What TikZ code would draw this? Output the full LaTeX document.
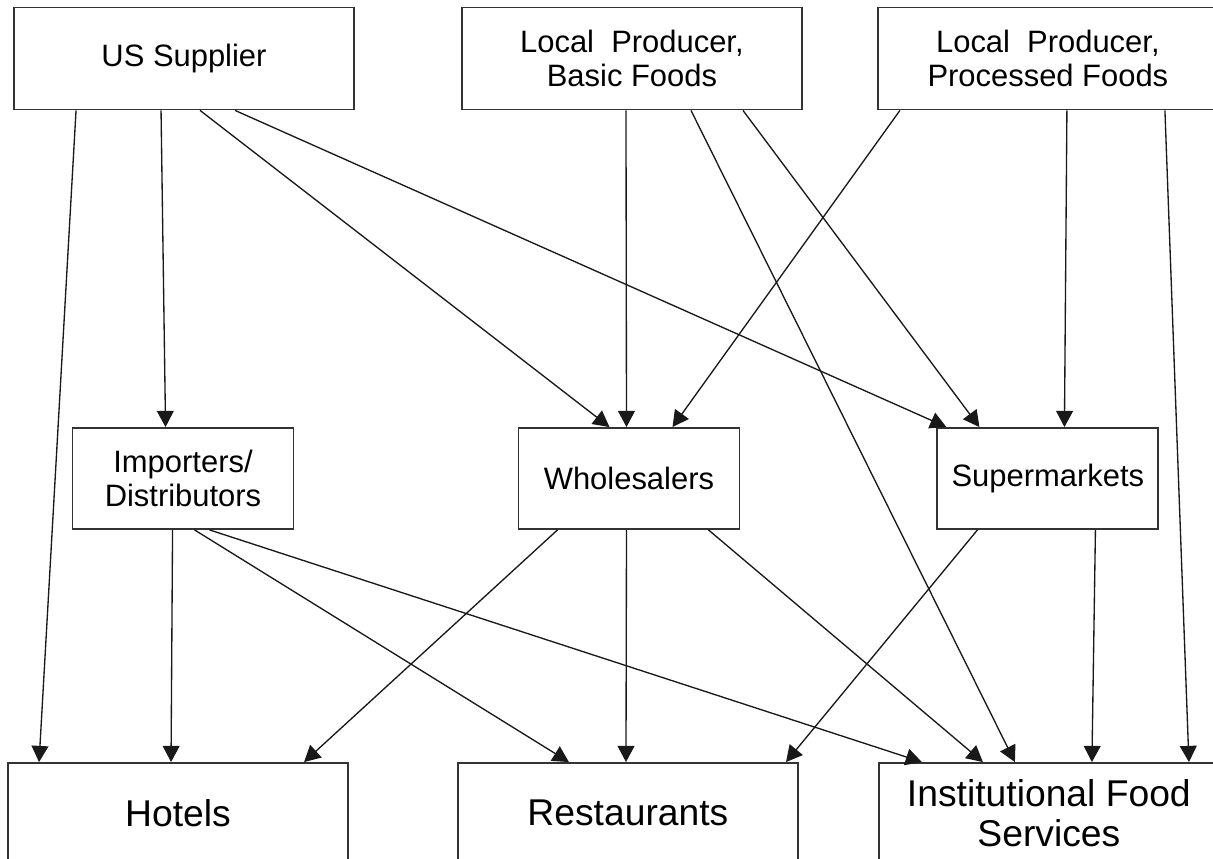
\documentclass[tikz,border=0pt]{standalone}
\usepackage{fontspec}
\setmainfont{Liberation Sans}
\usetikzlibrary{arrows.meta, positioning, calc}

\begin{document}
\begin{tikzpicture}[x=0.025cm, y=-0.025cm,
                box/.style={rectangle, draw=black!80, line width=1.3pt, minimum width=8.5cm, minimum height=2.55cm, align=center, inner sep=0pt, font=\fontsize{22}{24}\selectfont},
                midbox/.style={box, minimum width=5.525cm, minimum height=2.525cm},
                endbox/.style={box, minimum height=2.5cm, font=\fontsize{26.5}{28}\selectfont},
                arrow/.style={-{Triangle[length=11.5pt, width=12pt]}, line width=0.95pt, black!90}]

            \useasboundingbox (0,0) rectangle (1213,859);
            \clip (0,0) rectangle (1213,859);

            % Suppliers
            \node[box] (us) at (184,58.5) {US Supplier};
            \node[box, right=2.65cm of us] (basic) {Local\ \ Producer,\\Basic Foods};
            \node[box, right=1.85cm of basic] (processed) {Local\ \ Producer,\\Processed Foods};

            % Intermediaries
            \node[midbox] (importers) at (183,478.5) {Importers/\\Distributors};
            \node[midbox, right=5.575cm of importers] (wholesalers) {Wholesalers};
            \node[midbox, right=4.9cm of wholesalers] (supermarkets) {Supermarkets};

            % Outlets (cut at the bottom edge)
            \node[endbox] (hotels) at (178,813) {Hotels};
            \node[endbox, right=2.7cm of hotels] (restaurants) {Restaurants};
            \node[endbox, right=1.975cm of restaurants] (institutional) {Institutional Food\\Services};

            \draw[arrow] ($(us.south west)+(63,0)$) -- ($(hotels.north west)+(32,0)$);
            \draw[arrow] ($(us.south west)+(148,0)$) -- ($(importers.north west)+(94,0)$);
            \draw[arrow] ($(us.south west)+(187,0)$) -- ($(wholesalers.north west)+(92,0)$);
            \draw[arrow] ($(us.south west)+(222,0)$) -- ($(supermarkets.north west)+(10,0)$);

            \draw[arrow] ($(basic.south west)+(165,0)$) -- ($(wholesalers.north west)+(109,0)$);
            \draw[arrow] ($(basic.south west)+(230,0)$) -- ($(institutional.north west)+(137,0)$);
            \draw[arrow] ($(basic.south west)+(282,0)$) -- ($(supermarkets.north west)+(43,0)$);

            \draw[arrow] ($(processed.south west)+(23,0)$) -- ($(wholesalers.north west)+(155,0)$);
            \draw[arrow] ($(processed.south west)+(190,0)$) -- ($(supermarkets.north west)+(128,0)$);
            \draw[arrow] ($(processed.south west)+(288,0)$) -- ($(institutional.north west)+(311,0)$);

            \draw[arrow] ($(importers.south west)+(101,0)$) -- ($(hotels.north west)+(164,0)$);
            \draw[arrow] ($(importers.south west)+(123,0)$) -- ($(restaurants.north west)+(112,0)$);
            \draw[arrow] ($(importers.south west)+(138,0)$) -- ($(institutional.north west)+(44,0)$);

            \draw[arrow] ($(wholesalers.south west)+(40,0)$) -- ($(hotels.north west)+(297,0)$);
            \draw[arrow] ($(wholesalers.south west)+(109,0)$) -- ($(restaurants.north west)+(169,0)$);
            \draw[arrow] ($(wholesalers.south west)+(191,0)$) -- ($(institutional.north west)+(105,0)$);

            \draw[arrow] ($(supermarkets.south west)+(41,0)$) -- ($(restaurants.north west)+(329,0)$);
            \draw[arrow] ($(supermarkets.south west)+(159,0)$) -- ($(institutional.north west)+(214,0)$);

        \end{tikzpicture}
\end{document}
